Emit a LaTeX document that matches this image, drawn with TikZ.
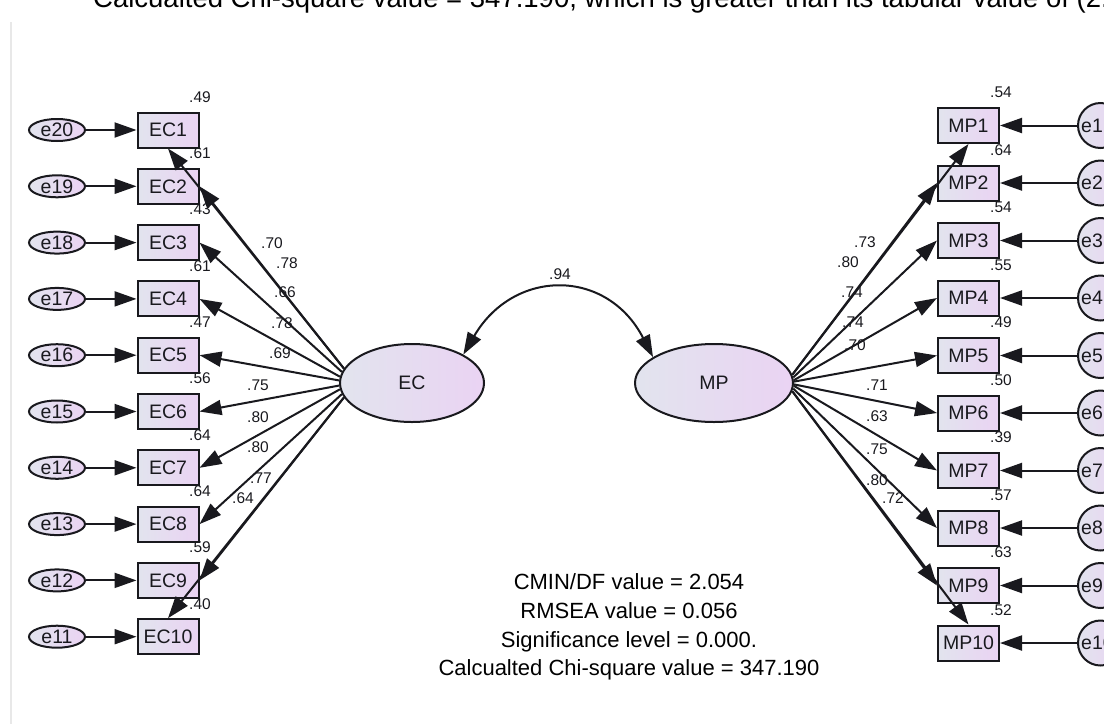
\documentclass[tikz,border=0pt]{standalone}
\usepackage{fontspec}
\setmainfont{Liberation Sans}
\usetikzlibrary{shapes.geometric,arrows.meta}
\definecolor{shadeL}{RGB}{226,228,238}
\definecolor{shadeR}{RGB}{234,211,243}
\definecolor{ink}{RGB}{25,25,30}
\newcommand{\fsz}[1]{\fontsize{#1}{#1}\selectfont}

\begin{document}
\begin{tikzpicture}[x=1pt,y=-1pt,
  obs/.style={rectangle, draw=ink, line width=2pt, minimum width=61pt, minimum height=35pt,
    inner sep=0pt, left color=shadeL, right color=shadeR, font=\fsz{19.5}, text=ink},
  errl/.style={ellipse, draw=ink, line width=2pt, minimum width=56pt, minimum height=22pt,
    inner sep=0pt, left color=shadeL, right color=shadeR, font=\fsz{19.5}, text=ink},
  errr/.style={circle, draw=ink, line width=2pt, minimum size=45pt, inner sep=0pt,
    left color=shadeL, right color=shadeR},
  lat/.style={ellipse, draw=ink, line width=2pt, minimum height=78pt, inner sep=0pt,
    left color=shadeL, right color=shadeR, font=\fsz{19.5}, text=ink},
  num/.style={font=\fsz{15.5}, inner sep=0pt, text=ink},
  arr/.style={-{Triangle[length=22pt,width=15pt]}, line width=2pt, draw=ink},
  cov/.style={{Triangle[length=22pt,width=15pt]}-{Triangle[length=22pt,width=15pt]}, line width=2pt, draw=ink},
  note/.style={font=\fontsize{22}{28.8}\selectfont, align=center, inner sep=0pt, text=black}
]
\useasboundingbox (0,0) rectangle (1104,724);
\clip (0,0) rectangle (1104,724);
\fill[white] (0,0) rectangle (1104,724);

% page edge
\draw[black!9, line width=2pt] (10.5,22) -- (10.5,724);

% heading line, cut at the top of the page
\node[anchor=base west, font=\fsz{27.5}, inner sep=0pt, text=black] (head) at (93,7)
  {Calcualted Chi-square value = 347.190, which is greater than its tabular value of (2.00};

% latent variables
\node[lat, minimum width=144pt] (EC) at (412,383) {EC};
\node[lat, minimum width=158pt] (MP) at (714,383) {MP};
\draw[cov] (EC.29) .. controls (514,268) and (607,268) .. (MP.157);
\node[num] (r94) at (560,274) {.94};

% EC indicators with their error terms
\foreach \i in {1,...,10}{
  \pgfmathsetmacro{\yy}{130+56.3*(\i-1)}
  \pgfmathtruncatemacro{\ee}{21-\i}
  \node[obs] (EC\i) at (168,\yy) {EC\i};
  \node[errl] (e\ee) at (57,\yy) {e\ee};
  \draw[arr] (e\ee) -- (EC\i);
}
% MP indicators with their error terms
\foreach \i in {1,...,10}{
  \pgfmathsetmacro{\yy}{125.5+57.5*(\i-1)}
  \node[obs] (MP\i) at (968.5,\yy) {MP\i};
  \node[errr] (e\i) at (1100.5,\yy) {};
  \node[anchor=west, font=\fsz{19.5}, inner sep=0pt, text=ink] (el\i) at (1081,\yy) {e\i};
  \draw[arr] (e\i) -- (MP\i);
}

% loadings of EC
\draw[arr] (EC.168) -- (EC1.south);
\foreach \i/\ang in {2/168,3/171,4/175,5/178,6/182,7/185,8/189,9/192}{
  \draw[arr] (EC.\ang) -- (EC\i.east);
}
\draw[arr] (EC.192) -- (EC10.north);

% loadings of MP
\draw[arr] (MP.6) -- (MP1.south);
\foreach \i/\ang in {2/6,3/4,4/2,5/1,6/359,7/358,8/356,9/354}{
  \draw[arr] (MP.\ang) -- (MP\i.west);
}
\draw[arr] (MP.354) -- (MP10.north);

% squared multiple correlations
\foreach \v [count=\i] in {.49,.61,.43,.61,.47,.56,.64,.64,.59,.40}{
  \node[num] (rl\i) at (200,{130+56.3*(\i-1)-33}) {\v};
}
\foreach \v [count=\i] in {.54,.64,.54,.55,.49,.50,.39,.57,.63,.52}{
  \node[num] (rr\i) at (1001,{125.5+57.5*(\i-1)-33}) {\v};
}

% standardized loadings
\foreach \v/\x/\y [count=\i] in {.70/272/243, .78/287/263, .66/285/292, .78/282/323, .69/280/353,
    .75/258/385, .80/258/417, .80/258/447, .77/261/478, .64/243/498}{
  \node[num] (wl\i) at (\x,\y) {\v};
}
\foreach \v/\x/\y [count=\i] in {.73/865/242, .80/848/262, .74/852/292, .74/853/322, .70/855/345,
    .71/877/385, .63/877/416, .75/877/449, .80/877/480, .72/893/498}{
  \node[num] (wr\i) at (\x,\y) {\v};
}

% fit summary
\node[note] (fit) at (629,627) {CMIN/DF value = 2.054\\RMSEA value = 0.056\\Significance level = 0.000.\\Calcualted Chi-square value = 347.190};
\end{tikzpicture}
\end{document}
